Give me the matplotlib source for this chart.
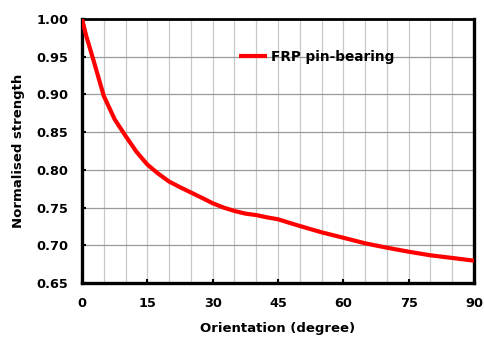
import matplotlib
matplotlib.use('Agg')
import matplotlib.pyplot as plt
from matplotlib.ticker import MultipleLocator

# ── Data ──────────────────────────────────────────────────────────────────────
orientation = [0, 1, 2.5, 5, 7.5, 10, 12.5, 15, 17.5, 20, 22.5, 25, 27.5,
               30, 32.5, 35, 37.5, 40, 42.5, 45, 47.5, 50, 55, 60, 65,
               70, 75, 80, 85, 90]
strength = [1.000, 0.977, 0.948, 0.898, 0.867, 0.845, 0.824, 0.807, 0.795,
            0.7845, 0.777, 0.770, 0.763, 0.7557, 0.750, 0.7455, 0.742,
            0.740, 0.737, 0.7345, 0.730, 0.7256, 0.7172, 0.710, 0.7026,
            0.6968, 0.6915, 0.6867, 0.6832, 0.6796]
series_name = 'FRP pin-bearing'

plt.rcParams.update({
    'font.family': ['DejaVu Sans'],
    'font.weight': 'bold',
    'font.size': 9,
})

fig = plt.figure(figsize=(4.85, 3.38), dpi=100)
ax = fig.add_axes([82 / 485, 1 - 283 / 338, 392 / 485, 264 / 338])

ax.plot(orientation, strength, color='#ff0000', linewidth=3,
        solid_capstyle='butt', solid_joinstyle='round',
        label=series_name, zorder=3)

ax.set_xlim(0, 90)
ax.set_ylim(0.65, 1.00)
ax.xaxis.set_major_locator(MultipleLocator(15))
ax.xaxis.set_minor_locator(MultipleLocator(5))
ax.yaxis.set_major_locator(MultipleLocator(0.05))
ax.yaxis.set_major_formatter(plt.FormatStrFormatter('%.2f'))

# grid: light verticals every 5, darker horizontals every 0.05
ax.grid(True, axis='x', which='both', color='#c8c8c8', linewidth=0.9)
ax.grid(True, axis='y', which='major', color='#9a9a9a', linewidth=0.9)
ax.set_axisbelow(True)

ax.tick_params(which='major', direction='in', length=3, width=1.5,
               labelsize=9.3)
ax.tick_params(axis='x', pad=10)
ax.tick_params(axis='y', pad=10)
ax.tick_params(which='minor', length=0)
for lbl in ax.get_xticklabels() + ax.get_yticklabels():
    lbl.set_fontweight('bold')

for side in ['left', 'bottom', 'right']:
    ax.spines[side].set_linewidth(2.4)
ax.spines['top'].set_linewidth(2.0)

ax.set_xlabel('Orientation (degree)', fontsize=9.5, fontweight='bold',
              labelpad=9)
ax.set_ylabel('Normalised strength', fontsize=9.5, fontweight='bold',
              labelpad=8)

ax.legend(loc='center left', bbox_to_anchor=(0.40, 0.857), frameon=False,
          handlelength=2.1, handletextpad=0.25, borderaxespad=0,
          borderpad=0, prop={'weight': 'bold', 'size': 9.8})

fig.savefig('out.png', dpi=100)
